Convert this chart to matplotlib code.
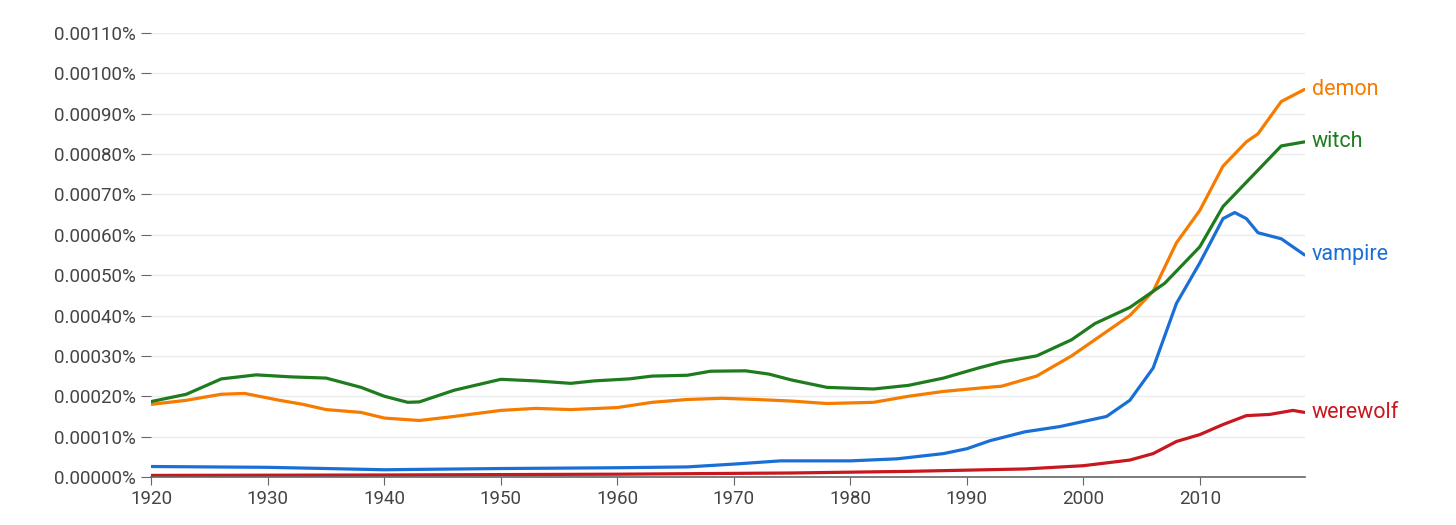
import matplotlib.pyplot as plt
from matplotlib.ticker import FuncFormatter

plt.rcParams['font.family'] = ['Roboto', 'DejaVu Sans']

# ----------------------------
# Data (relative frequency, in percent)
# ----------------------------
witch_years = [1920, 1923, 1926, 1929, 1932, 1935, 1938, 1940, 1942, 1943, 1946, 1950, 1953, 1956, 1958,
               1961, 1963, 1966, 1968, 1971, 1973, 1975, 1978, 1982, 1985, 1988, 1991, 1993, 1996, 1999,
               2001, 2004, 2007, 2010, 2012, 2015, 2017, 2019]
witch = [0.000187, 0.000205, 0.000243, 0.000253, 0.000248, 0.000245, 0.000222, 0.000200, 0.000185, 0.000186,
         0.000215, 0.000242, 0.000238, 0.000232, 0.000238, 0.000243, 0.000250, 0.000252, 0.000262, 0.000263,
         0.000255, 0.000240, 0.000222, 0.000218, 0.000227, 0.000245, 0.000270, 0.000285, 0.000300, 0.000340,
         0.000380, 0.000420, 0.000480, 0.000570, 0.000670, 0.000760, 0.000820, 0.000830]

demon_years = [1920, 1923, 1926, 1928, 1931, 1933, 1935, 1938, 1940, 1943, 1946, 1950, 1953, 1956, 1960,
               1963, 1966, 1969, 1972, 1975, 1978, 1982, 1985, 1988, 1991, 1993, 1996, 1999, 2002, 2004,
               2006, 2008, 2010, 2012, 2014, 2015, 2017, 2019]
demon = [0.000180, 0.000190, 0.000205, 0.000207, 0.000190, 0.000180, 0.000167, 0.000160, 0.000146, 0.000140,
         0.000150, 0.000165, 0.000170, 0.000167, 0.000172, 0.000185, 0.000192, 0.000195, 0.000192, 0.000188,
         0.000182, 0.000185, 0.000200, 0.000212, 0.000220, 0.000225, 0.000250, 0.000300, 0.000360, 0.000400,
         0.000460, 0.000580, 0.000660, 0.000770, 0.000830, 0.000850, 0.000930, 0.000960]

vampire_years = [1920, 1930, 1940, 1950, 1960, 1966, 1970, 1974, 1980, 1984, 1988, 1990, 1992, 1995, 1998,
                 2002, 2004, 2006, 2008, 2010, 2012, 2013, 2014, 2015, 2017, 2019]
vampire = [0.000026, 0.000024, 0.000018, 0.000021, 0.000023, 0.000025, 0.000032, 0.000040, 0.000040, 0.000045,
           0.000058, 0.000070, 0.000090, 0.000112, 0.000125, 0.000150, 0.000190, 0.000270, 0.000430, 0.000530,
           0.000640, 0.000655, 0.000640, 0.000605, 0.000590, 0.000550]

werewolf_years = [1920, 1940, 1960, 1975, 1985, 1995, 2000, 2004, 2006, 2008, 2010, 2012, 2014, 2016, 2018, 2019]
werewolf = [0.000004, 0.000005, 0.000007, 0.000010, 0.000014, 0.000020, 0.000028, 0.000042, 0.000058, 0.000088,
            0.000105, 0.000130, 0.000152, 0.000155, 0.000165, 0.000160]

series = [
    ("demon", demon_years, demon, "#F57C00"),
    ("witch", witch_years, witch, "#1E7B1E"),
    ("vampire", vampire_years, vampire, "#1A6FD6"),
    ("werewolf", werewolf_years, werewolf, "#C8171E"),
]

# ----------------------------
# Plot
# ----------------------------
fig = plt.figure(figsize=(14.56, 5.25), dpi=100)
ax = fig.add_axes([0.104, 0.0914, 0.792, 0.846])

for name, xs, ys, color in series:
    ax.plot(xs, ys, color=color, lw=2.3, solid_capstyle="round", solid_joinstyle="round")
    ax.text(xs[-1] + 0.6, ys[-1], name, color=color, fontsize=15.5, va="center", ha="left")

ax.set_xlim(1920, 2019)
ax.set_ylim(0, 0.0011)
ax.set_yticks([i * 0.0001 for i in range(12)])
ax.set_xticks(range(1920, 2011, 10))
ax.yaxis.set_major_formatter(FuncFormatter(lambda v, p: f"{v:.5f}%"))

ax.grid(axis="y", color="#EBEBEB", lw=1)
ax.set_axisbelow(True)
for s in ["top", "right", "left"]:
    ax.spines[s].set_visible(False)
ax.spines["bottom"].set_color("#666666")
ax.spines["bottom"].set_linewidth(1.2)
ax.tick_params(axis="y", length=7, color="#666666", labelsize=13.5, labelcolor="#444444", pad=4)
ax.tick_params(axis="x", length=6, color="#666666", labelsize=13.5, labelcolor="#444444")

fig.savefig("out.png", dpi=100)
